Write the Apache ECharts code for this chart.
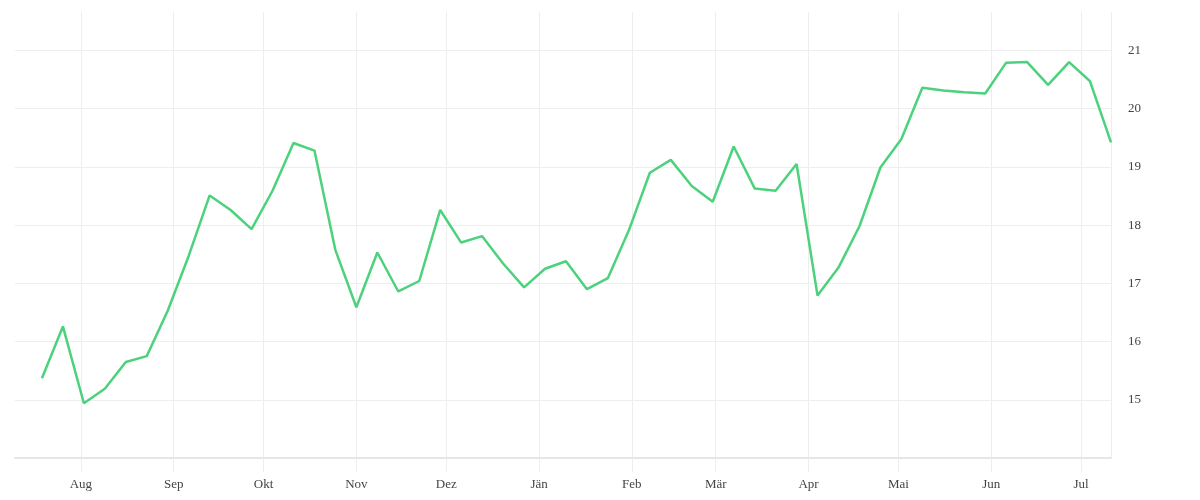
<!DOCTYPE html>
<html>
<head>
<meta charset="utf-8">
<script src="https://cdn.jsdelivr.net/npm/echarts@6/dist/echarts.min.js"></script>
<style>html,body{margin:0;padding:0;background:#fff;}#c{width:1200px;height:500px;}</style>
</head>
<body>
<div id="c"></div>
<script>
var dates = [
  '2018-07-19','2018-07-26','2018-08-02','2018-08-09','2018-08-16','2018-08-23','2018-08-30',
  '2018-09-06','2018-09-13','2018-09-20','2018-09-27','2018-10-04','2018-10-11','2018-10-18',
  '2018-10-25','2018-11-01','2018-11-08','2018-11-15','2018-11-22','2018-11-29','2018-12-06',
  '2018-12-13','2018-12-20','2018-12-27','2019-01-03','2019-01-10','2019-01-17','2019-01-24',
  '2019-01-31','2019-02-07','2019-02-14','2019-02-21','2019-02-28','2019-03-07','2019-03-14',
  '2019-03-21','2019-03-28','2019-04-04','2019-04-11','2019-04-18','2019-04-25','2019-05-02',
  '2019-05-09','2019-05-16','2019-05-23','2019-05-30','2019-06-06','2019-06-13','2019-06-20',
  '2019-06-27','2019-07-04','2019-07-11'
];
var values = [
  15.37,16.26,14.94,15.19,15.65,15.75,16.53,
  17.47,18.51,18.26,17.93,18.59,19.41,19.28,
  17.57,16.59,17.53,16.86,17.04,18.26,17.70,
  17.81,17.34,16.93,17.25,17.38,16.90,17.09,
  17.91,18.90,19.12,18.67,18.40,19.35,18.63,
  18.59,19.05,16.79,17.27,17.98,18.99,19.48,
  20.36,20.31,20.28,20.26,20.79,20.80,20.41,
  20.80,20.47,19.42
];
var monthNames = ['Jän','Feb','Mär','Apr','Mai','Jun','Jul','Aug','Sep','Okt','Nov','Dez'];
var axisStart = '2018-07-10';
var axisEnd = '2019-07-11';

var chart = echarts.init(document.getElementById('c'), null, {renderer: 'canvas'});
var fontFamily = '"Liberation Serif", serif';
chart.setOption({
  animation: false,
  grid: {left: 15, right: 89, top: 12, bottom: 42, containLabel: false},
  xAxis: {
    type: 'time',
    min: axisStart,
    max: axisEnd,
    minInterval: 28 * 86400000,
    maxInterval: 31 * 86400000,
    axisLine: {show: true, lineStyle: {color: '#e6e6e6', width: 2}},
    axisTick: {show: true, length: 14, lineStyle: {color: '#eeeeee', width: 1}},
    splitLine: {show: true, showMinLine: false, showMaxLine: true, lineStyle: {color: '#eeeeee', width: 1}},
    axisLabel: {
      color: '#444', fontFamily: fontFamily, fontSize: 13, margin: 20,
      showMinLabel: false, showMaxLabel: false,
      formatter: function (val) { return monthNames[new Date(val).getMonth()]; }
    }
  },
  yAxis: {
    type: 'value',
    position: 'right',
    min: 14,
    max: 21.66,
    interval: 1,
    axisLine: {show: false},
    axisTick: {show: false},
    splitLine: {show: true, showMinLine: false, showMaxLine: false, lineStyle: {color: '#eeeeee', width: 1}},
    axisLabel: {
      color: '#444', fontFamily: fontFamily, fontSize: 13, margin: 17,
      showMinLabel: false, showMaxLabel: false,
      formatter: function (v) { return (v >= 15 && v <= 21) ? String(v) : ''; }
    }
  },
  series: [{
    type: 'line',
    data: dates.map(function (d, i) { return [d, values[i]]; }),
    showSymbol: false,
    symbol: 'none',
    lineStyle: {color: '#4cd27c', width: 2.5},
    itemStyle: {color: '#4cd27c'}
  }]
});
</script>
</body>
</html>
